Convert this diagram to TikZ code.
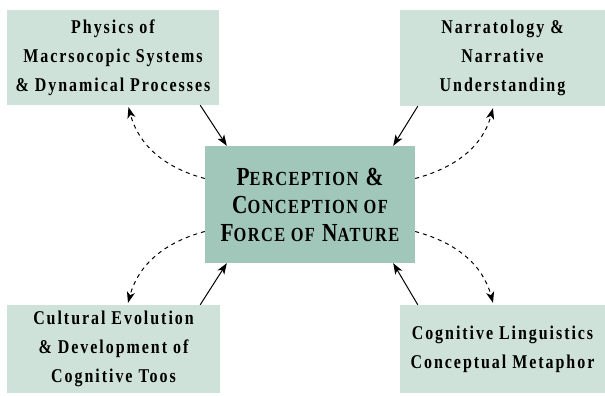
\documentclass[tikz,border=0pt]{standalone}
\usepackage{fontspec}
\setmainfont{Liberation Serif}[FakeStretch=0.82,LetterSpace=10]
\newfontfamily\centrefont{Liberation Serif}[FakeStretch=0.82,LetterSpace=7]
\usetikzlibrary{arrows.meta}
\definecolor{lightsage}{RGB}{207,226,218}
\definecolor{darksage}{RGB}{161,198,186}
\newcommand{\fsc}[2]{{\fontsize{26}{28}\selectfont #1}{\fontsize{20}{28}\selectfont #2}}

\begin{document}
\begin{tikzpicture}[x=1pt, y=1pt,
  sidebox/.style={fill=lightsage, align=center, inner sep=0pt,
    font=\bfseries\fontsize{19.5}{29}\selectfont},
  centrebox/.style={fill=darksage, align=center, inner sep=0pt,
    minimum width=210pt, minimum height=117pt,
    font=\centrefont\bfseries\fontsize{26}{28}\selectfont},
  solidarr/.style={-{Stealth[length=11pt,width=8pt,inset=3pt]}, line width=1pt},
  dasharr/.style={-{Stealth[length=11pt,width=8pt,inset=3pt]}, line width=1pt,
    dash pattern=on 4pt off 4pt}]
  \useasboundingbox (0,0) rectangle (605,-396);

  \node[sidebox, minimum width=212pt, minimum height=95pt] (phys) at (113,-57.5)
    {Physics of\\Macrsocopic Systems\\\& Dynamical Processes};
  \node[sidebox, minimum width=205pt, minimum height=96pt] (narr) at (502.5,-58)
    {Narratology \&\\Narrative\\Understanding};
  \node[sidebox, minimum width=213pt, minimum height=88pt] (cult) at (113.5,-349)
    {Cultural Evolution\\\& Development of\\Cognitive Toos};
  \node[sidebox, minimum width=205pt, minimum height=88pt] (ling) at (502.5,-349)
    {Cognitive Linguistics\\Conceptual Metaphor};
  \node[centrebox] (force) at (310,-204.5)
    {\fsc{P}{ERCEPTION} \&\\\fsc{C}{ONCEPTION OF}\\\fsc{F}{ORCE OF} \fsc{N}{ATURE}};

  \draw[solidarr] ([xshift=-19pt]phys.south east) -- ([xshift=22pt]force.north west);
  \draw[solidarr] ([xshift=18pt]narr.south west) -- ([xshift=-22pt]force.north east);
  \draw[solidarr] ([xshift=-20pt]cult.north east) -- ([xshift=22pt]force.south west);
  \draw[solidarr] ([xshift=18pt]ling.north west) -- ([xshift=-22pt]force.south east);

  \draw[dasharr, shorten >=2pt] ([yshift=26pt]force.west) to[out=165,in=-75] ([xshift=15pt]phys.south);
  \draw[dasharr, shorten >=2pt] ([yshift=26pt]force.east) to[out=15,in=-105] ([xshift=-9pt]narr.south);
  \draw[dasharr, shorten >=2pt] ([yshift=-27pt]force.west) to[out=195,in=75] ([xshift=14pt]cult.north);
  \draw[dasharr, shorten >=2pt] ([yshift=-27pt]force.east) to[out=-15,in=105] ([xshift=-9pt]ling.north);
\end{tikzpicture}
\end{document}
